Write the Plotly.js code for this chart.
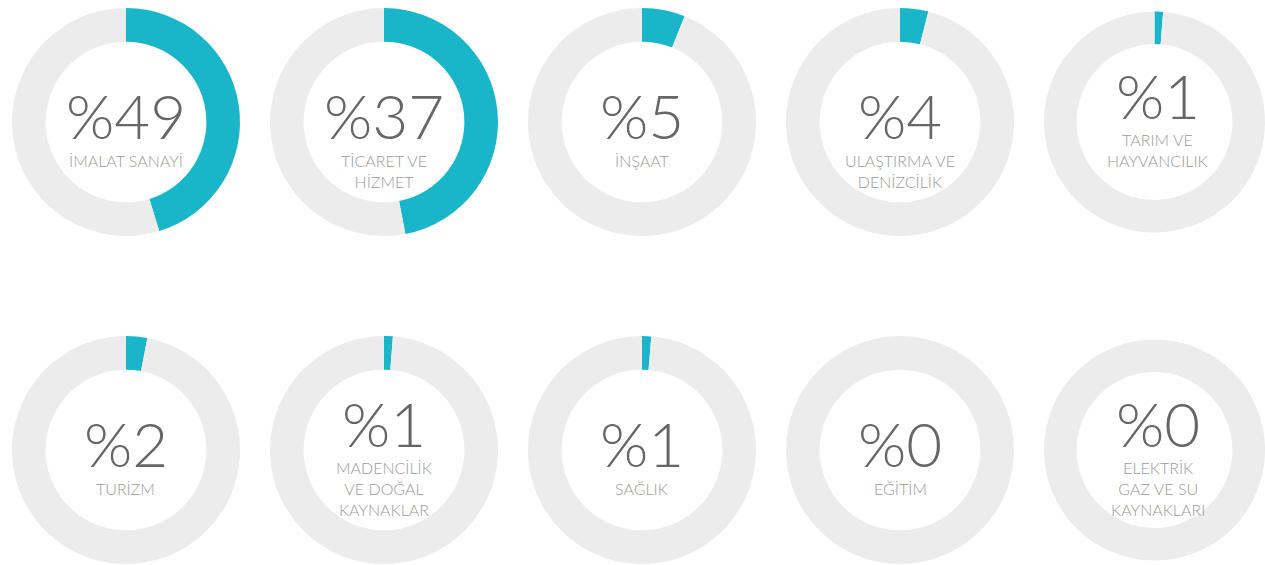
<!DOCTYPE html>
<html>
<head>
<meta charset="utf-8">
<script src="https://cdn.plot.ly/plotly-3.0.1.min.js"></script>
<style>html,body{margin:0;padding:0;background:#fff;}#chart{width:1265px;height:565px;}</style>
</head>
<body>
<div id="chart"></div>
<script>
// Sector names (label lines)
const sectors = [
  ["İMALAT SANAYİ"],
  ["TİCARET VE", "HİZMET"],
  ["İNŞAAT"],
  ["ULAŞTIRMA VE", "DENİZCİLİK"],
  ["TARIM VE", "HAYVANCILIK"],
  ["TURİZM"],
  ["MADENCİLİK", "VE DOĞAL", "KAYNAKLAR"],
  ["SAĞLIK"],
  ["EĞİTİM"],
  ["ELEKTRİK", "GAZ VE SU", "KAYNAKLARI"]
];
// Printed percentage in the centre of each ring
const percentLabels = [49, 37, 5, 4, 1, 2, 1, 1, 0, 0];
// Share drawn by the coloured arc of each ring
const ringShares = [45.3, 47, 6.1, 4, 1.25, 3, 1.25, 1.3, 0, 0];

// ---- layout (positions / styles) ----
const W = 1265, H = 565;
const centersX = [126, 384, 642, 900, 1158];
const centersY = [122, 450];
const R = 114;
const raised = [0, 0, 0, 0, 1, 0, 1, 0, 0, 1];

const data = [];
const annotations = [];
sectors.forEach((lines, i) => {
  const cx = centersX[i % 5];
  const cy = centersY[Math.floor(i / 5)];
  data.push({
    type: 'pie',
    values: [ringShares[i], 100 - ringShares[i]],
    sort: false,
    direction: 'clockwise',
    rotation: 0,
    hole: 0.705,
    textinfo: 'none',
    hoverinfo: 'none',
    showlegend: false,
    marker: {colors: ['#19b5c8', '#ececec'], line: {width: 0}},
    domain: {
      x: [(cx - R) / W, (cx + R) / W],
      y: [(H - cy - R) / H, (H - cy + R) / H]
    }
  });
  const numOff = raised[i] ? -27 : -7;
  const labOff = raised[i] ? 6 : 27;
  annotations.push({
    xref: 'paper', yref: 'paper', x: cx / W, y: 1 - (cy + numOff) / H,
    xanchor: 'center', yanchor: 'middle', showarrow: false,
    height: 58, valign: 'middle',
    text: '%' + percentLabels[i],
    font: {family: 'Lato', size: 62, color: '#666666', weight: 300}
  });
  annotations.push({
    xref: 'paper', yref: 'paper', x: cx / W, y: 1 - (cy + labOff) / H,
    xanchor: 'center', yanchor: 'top', showarrow: false,
    text: lines.join('<br>'),
    font: {family: 'Lato', size: 16, color: '#9a9a9a', weight: 300}
  });
});

Plotly.newPlot('chart', data, {
  width: W, height: H,
  margin: {l: 0, r: 0, t: 0, b: 0},
  paper_bgcolor: '#ffffff',
  plot_bgcolor: '#ffffff',
  annotations: annotations
}, {displayModeBar: false, staticPlot: true});
</script>
</body>
</html>
